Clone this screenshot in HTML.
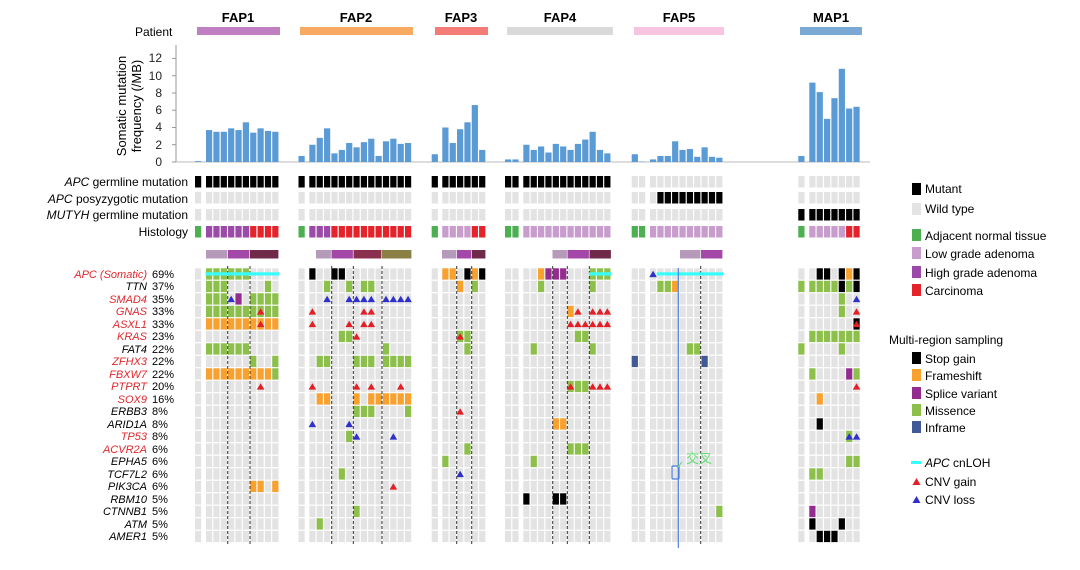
<!DOCTYPE html>
<html><head><meta charset="utf-8"><style>
html,body{margin:0;padding:0;background:#fff;}
svg{display:block;font-family:"Liberation Sans",Arial,sans-serif;}
</style></head><body>
<svg id="s" width="1080" height="570" viewBox="0 0 1080 570" xmlns="http://www.w3.org/2000/svg">
<g font-size="13" font-weight="bold" text-anchor="middle">
<text x="238" y="22">FAP1</text><text x="356" y="22">FAP2</text><text x="461" y="22">FAP3</text><text x="560" y="22">FAP4</text><text x="679" y="22">FAP5</text><text x="831" y="22">MAP1</text>
</g>
<text x="135" y="36" font-size="12">Patient</text>
<rect x="197" y="27" width="83" height="8" fill="#c07fc0"/>
<rect x="300" y="27" width="113" height="8" fill="#f8aa62"/>
<rect x="435" y="27" width="53" height="8" fill="#f47c76"/>
<rect x="507" y="27" width="106" height="8" fill="#d9d9d9"/>
<rect x="634" y="27" width="90" height="8" fill="#f9c4e0"/>
<rect x="800" y="27" width="62" height="8" fill="#79a9d4"/>
<line x1="176" y1="45" x2="176" y2="162" stroke="#999" stroke-width="1"/>
<line x1="176" y1="162" x2="870" y2="162" stroke="#bbb" stroke-width="1"/>
<g font-size="12" text-anchor="end" fill="#222">
<text x="162" y="166">0</text><text x="162" y="149">2</text><text x="162" y="131">4</text><text x="162" y="114">6</text><text x="162" y="97">8</text><text x="162" y="80">10</text><text x="162" y="62">12</text>
</g>
<g stroke="#999"><line x1="172" y1="162" x2="176" y2="162"/><line x1="172" y1="144.7" x2="176" y2="144.7"/><line x1="172" y1="127.5" x2="176" y2="127.5"/><line x1="172" y1="110.2" x2="176" y2="110.2"/><line x1="172" y1="93" x2="176" y2="93"/><line x1="172" y1="75.7" x2="176" y2="75.7"/><line x1="172" y1="58.4" x2="176" y2="58.4"/></g>
<g font-size="13" text-anchor="middle">
<text transform="translate(126,106) rotate(-90)">Somatic mutation</text>
<text transform="translate(141,106) rotate(-90)">frequency (/MB)</text>
</g>
<g font-size="12" text-anchor="end">
<text x="188" y="186"><tspan font-style="italic">APC</tspan> germline mutation</text>
<text x="188" y="203"><tspan font-style="italic">APC</tspan> posyzygotic mutation</text>
<text x="188" y="219"><tspan font-style="italic">MUTYH</tspan> germline mutation</text>
<text x="188" y="236">Histology</text>
</g>
<g font-size="11" font-style="italic" text-anchor="end">
<text x="147" y="278" fill="#e0282e">APC (Somatic)</text>
<text x="147" y="290">TTN</text>
<text x="147" y="303" fill="#e0282e">SMAD4</text>
<text x="147" y="315" fill="#e0282e">GNAS</text>
<text x="147" y="328" fill="#e0282e">ASXL1</text>
<text x="147" y="340" fill="#e0282e">KRAS</text>
<text x="147" y="353">FAT4</text>
<text x="147" y="365" fill="#e0282e">ZFHX3</text>
<text x="147" y="378" fill="#e0282e">FBXW7</text>
<text x="147" y="390" fill="#e0282e">PTPRT</text>
<text x="147" y="403" fill="#e0282e">SOX9</text>
<text x="147" y="415">ERBB3</text>
<text x="147" y="428">ARID1A</text>
<text x="147" y="440" fill="#e0282e">TP53</text>
<text x="147" y="453" fill="#e0282e">ACVR2A</text>
<text x="147" y="465">EPHA5</text>
<text x="147" y="478">TCF7L2</text>
<text x="147" y="490">PIK3CA</text>
<text x="147" y="503">RBM10</text>
<text x="147" y="515">CTNNB1</text>
<text x="147" y="528">ATM</text>
<text x="147" y="540">AMER1</text>
</g>
<g font-size="11">
<text x="152" y="278">69%</text><text x="152" y="290">37%</text><text x="152" y="303">35%</text><text x="152" y="315">33%</text><text x="152" y="328">33%</text><text x="152" y="340">23%</text><text x="152" y="353">22%</text><text x="152" y="365">22%</text><text x="152" y="378">22%</text><text x="152" y="390">20%</text><text x="152" y="403">16%</text><text x="152" y="415">8%</text><text x="152" y="428">8%</text><text x="152" y="440">8%</text><text x="152" y="453">6%</text><text x="152" y="465">6%</text><text x="152" y="478">6%</text><text x="152" y="490">6%</text><text x="152" y="503">5%</text><text x="152" y="515">5%</text><text x="152" y="528">5%</text><text x="152" y="540">5%</text>
</g>
<g id="dyn"></g>
<text x="686" y="463" font-size="13" fill="#66dd77" font-family="'Noto Sans CJK SC',sans-serif">交叉</text>
<!-- legend -->
<g font-size="12">
<rect x="912" y="183" width="9" height="12" fill="#000"/><text x="925" y="193">Mutant</text>
<rect x="912" y="203" width="9" height="12" fill="#e3e3e3"/><text x="925" y="213">Wild type</text>
<rect x="912" y="229" width="9" height="12" fill="#4caf50"/><text x="925" y="240">Adjacent normal tissue</text>
<rect x="912" y="247" width="9" height="12" fill="#c89ccc"/><text x="925" y="258">Low grade adenoma</text>
<rect x="912" y="266" width="9" height="12" fill="#9c4aa7"/><text x="925" y="277">High grade adenoma</text>
<rect x="912" y="284" width="9" height="12" fill="#e5232b"/><text x="925" y="295">Carcinoma</text>
<text x="889" y="344">Multi-region sampling</text>
<rect x="912" y="352" width="9" height="12" fill="#000"/><text x="925" y="363">Stop gain</text>
<rect x="912" y="369" width="9" height="12" fill="#f9a12e"/><text x="925" y="380">Frameshift</text>
<rect x="912" y="387" width="9" height="12" fill="#942b8e"/><text x="925" y="398">Splice variant</text>
<rect x="912" y="404" width="9" height="12" fill="#8cc04a"/><text x="925" y="415">Missence</text>
<rect x="912" y="421" width="9" height="12" fill="#3f5a96"/><text x="925" y="432">Inframe</text>
<rect x="911" y="461" width="10" height="3" fill="#33ffff"/><text x="925" y="467"><tspan font-style="italic">APC</tspan> cnLOH</text>
<polygon points="912.5,485 916.5,478 920.5,485" fill="#e31e24"/><text x="925" y="486">CNV gain</text>
<polygon points="912.5,503 916.5,496 920.5,503" fill="#2f2fcc"/><text x="925" y="504">CNV loss</text>
</g>
</svg>
<script>
(function(){
var NS="http://www.w3.org/2000/svg",g=document.getElementById("dyn");
function el(t,a){var e=document.createElementNS(NS,t);for(var k in a)e.setAttribute(k,a[k]);g.appendChild(e);return e;}
var P=7.36,W=6.2,xs=[];
xs.push(195);for(var i=0;i<10;i++)xs.push(206+P*i);
xs.push(298.5);for(i=0;i<14;i++)xs.push(309.3+P*i);
xs.push(431.7);for(i=0;i<6;i++)xs.push(442.3+P*i);
xs.push(505,512.4);for(i=0;i<12;i++)xs.push(523.3+P*i);
xs.push(631.7,639);for(i=0;i<10;i++)xs.push(650+P*i);
xs.push(798.3);for(i=0;i<7;i++)xs.push(809.3+P*i);
var C={g:"#8cc04a",o:"#f9a12e",k:"#000",p:"#942b8e",b:"#3f5a96",G:"#4caf50",L:"#c89ccc",H:"#9c4aa7",R:"#e5232b",e:"#e3e3e3"};
// bars
var bv=[0.1,3.7,3.5,3.5,3.9,3.7,4.6,3.4,3.9,3.6,3.5,
0.7,2.0,2.8,3.9,1.0,1.4,2.2,1.7,2.3,2.7,0.7,2.4,2.7,2.1,2.2,
0.9,4.0,2.2,3.8,4.6,6.6,1.4,
0.3,0.3,2.0,1.4,1.8,1.1,2.1,1.8,1.4,2.1,2.6,3.5,1.4,1.0,
0.9,0.05,0.3,0.7,0.7,2.4,1.4,1.5,0.6,1.7,0.6,0.5,
0.7,9.2,8.1,5.0,7.4,10.8,6.2,6.4];
for(i=0;i<67;i++){var h=bv[i]*8.63;el("rect",{x:xs[i],y:162-h,width:W,height:h,fill:"#5b9bd5"});}
// top rows
function parse(s){var r=[];s.split(" ").forEach(function(t){if(!t)return;var p=t.split(":"),a=p[0].split("-"),lo=+a[0],hi=a.length>1?+a[1]:lo;for(var c=lo;c<=hi;c++)r.push([c,p[1]]);});return r;}
var top=[[176,"0-46:k"],[192,"50-58:k"],[209,"59-66:k"],[226,"0:G 1-6:H 7-10:R 11:G 12-14:H 15-25:R 26:G 27-30:L 31-32:R 33-34:G 35-46:L 47-48:G 49-58:L 59:G 60-64:L 65-66:R"]];
top.forEach(function(t){for(var c=0;c<67;c++)el("rect",{x:xs[c],y:t[0],width:W,height:11.5,fill:C.e});parse(t[1]).forEach(function(q){el("rect",{x:xs[q[0]],y:t[0],width:W,height:11.5,fill:C[q[1]]});});});
// subregion bars
[[206,228,"#b59ab9"],[228,250,"#a347a8"],[250,279,"#6e2a48"],[316,331.5,"#b59ab9"],[331.5,353.5,"#a347a8"],[353.5,382,"#8b2f4f"],[382,412,"#8a7f45"],[442,457,"#b59ab9"],[457,472,"#a347a8"],[472,486,"#6e2a48"],[552.5,567.5,"#b59ab9"],[567.5,589.5,"#a347a8"],[589.5,611.5,"#6e2a48"],[680,701,"#b59ab9"],[701,723,"#a347a8"]].forEach(function(b){el("rect",{x:b[0],y:250,width:b[1]-b[0]-0.6,height:8.5,fill:b[2]});});
var rows=["1-6:g 1-10:c 12:k 15-16:k 27-28:o 30:k 31:o 32:k 37:o 38-40:p 44-46:g 44-46:c 49:u 50-58:c 61-62:k 64:k 65:o 66:k",
"1-3:g 9:g 14:g 17:g 19-20:g 29:o 31:g 37:g 44:g 50-51:g 52:o 59:g 60-63:g 64:k 65:g 66:k",
"1-3:g 4:u 5:p 7-10:g 14:u 17-18:u 19-20:u 22-25:u 64:g 66:u",
"1-10:g 8:r 12:r 19-20:r 41:o 42:r 44-46:r 64:g 66:r",
"1-10:o 8:r 12:r 17:r 19-20:r 41-46:r 66:k 66:r",
"16-17:g 18:r 29-30:g 29:r 42-43:g 60-66:g",
"1-6:g 22:g 30:g 36:g 44:g 54-55:g 59:g 64:g",
"7:g 10:g 13-14:g 18-20:g 22-25:g 47:b 56:b",
"1-9:o 10:g 60:g 65:p 66:g",
"8:r 12:r 18:r 20:r 24:r 41-43:g 41:r 44-46:r 66:r",
"13-14:o 18:o 20-25:o 61:o",
"18-20:g 25:g 29:r",
"12:u 17:u 39-40:o 61:k",
"17:g 18:u 23:u 65:g 65-66:u",
"30:g 41-43:g",
"27:g 36:g 65-66:g",
"16:g 29:u 60-61:g",
"7-8:o 10:o 23:r",
"35:k 39-40:k",
"18:g 58:g 60:p",
"13:g 60:k 64:k",
"61-63:k"];
var tri=[];
rows.forEach(function(s,r){var y=268.3+r*12.5;
for(var c=0;c<67;c++)el("rect",{x:xs[c],y:y,width:W,height:11.3,fill:C.e});
parse(s).forEach(function(q){var c=q[0],k=q[1],x=xs[c];
if(k=="c")tri.push(["c",x,y]);else if(k=="r"||k=="u")tri.push([k,x,y]);
else el("rect",{x:x,y:y,width:W,height:11.3,fill:C[k]});});});
// dashed lines
[227.7,250,331.7,353.3,382,456.7,471.7,552.7,567.3,589.3,700.7].forEach(function(x){el("line",{x1:x,y1:266,x2:x,y2:545,stroke:"#333","stroke-width":1,"stroke-dasharray":"3,2"});});
tri.forEach(function(t){var x=t[1],y=t[2];
if(t[0]=="c")el("rect",{x:x-0.6,y:y+4,width:P,height:3.2,fill:"#33ffff"});
else{var cx=x+W/2;el("polygon",{points:(cx-3.8)+","+(y+8.8)+" "+cx+","+(y+2.5)+" "+(cx+3.8)+","+(y+8.8),fill:t[0]=="r"?"#e31e24":"#2f2fcc"});}});
el("line",{x1:678.3,y1:268,x2:678.3,y2:548,stroke:"#4a7fe0","stroke-width":1.2});
el("rect",{x:672,y:466,width:7,height:13,fill:"none",stroke:"#4a7fe0","stroke-width":1.2,rx:1});
el("line",{x1:677,y1:468,x2:682,y2:462,stroke:"#66dd77","stroke-width":1});
})();
</script>
</body></html>
